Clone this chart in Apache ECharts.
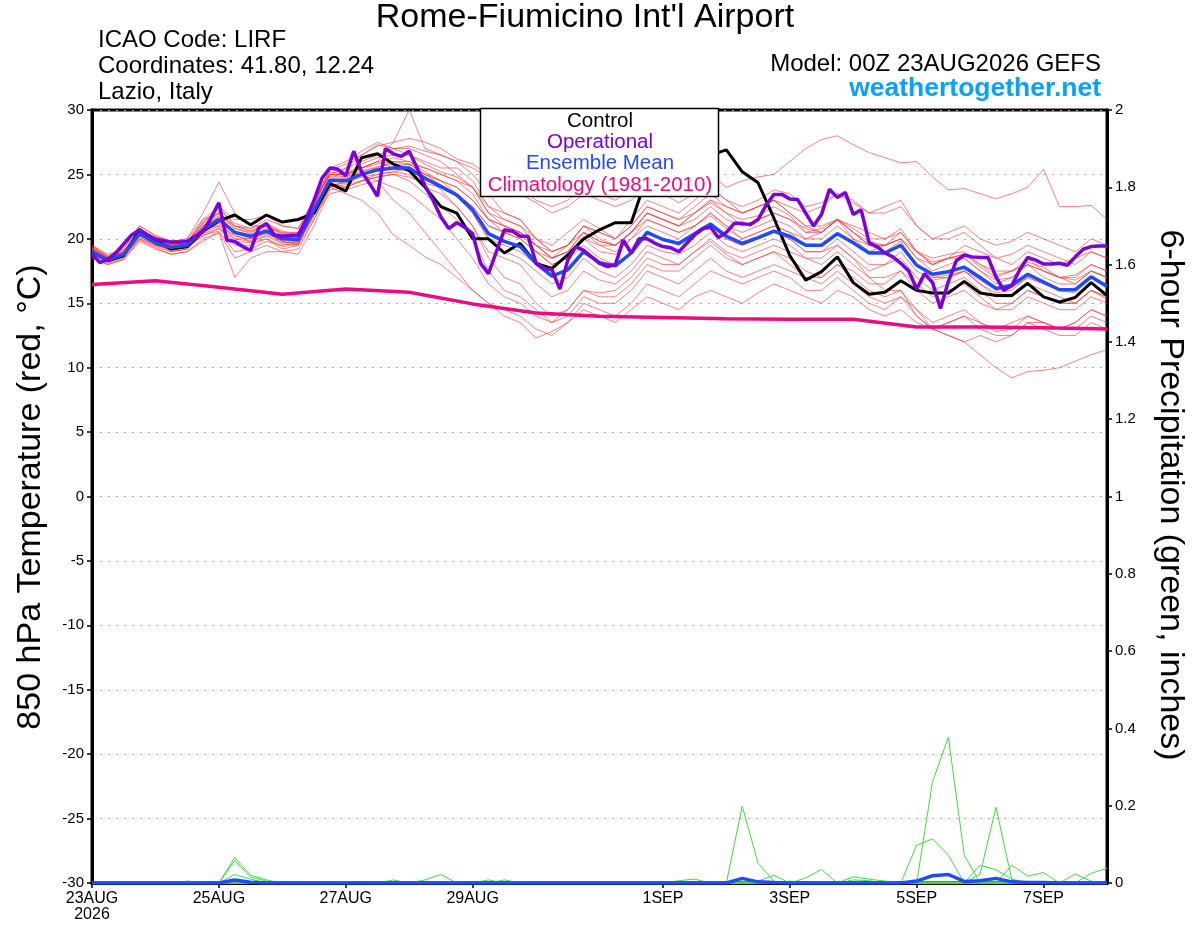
<!DOCTYPE html>
<html><head><meta charset="utf-8">
<script src="https://cdn.jsdelivr.net/npm/echarts@6/dist/echarts.min.js"></script>
<style>html,body{margin:0;padding:0;background:#fff}#c{width:1200px;height:927px}</style>
</head><body><div id="c"></div>
<script>
// ---- x ticks ----
const tickHours = [0,48,96,144,216,264,312,360];
const tickLabels = ['23AUG\n2026','25AUG','27AUG','29AUG','1SEP','3SEP','5SEP','7SEP'];

// ---- control / mean / operational / climatology ----
const control = [19.0,18.3,18.7,20.7,19.9,19.2,19.4,20.6,21.4,21.85,
21.1,21.85,21.3,21.5,22.0,24.3,23.7,26.3,26.6,25.8,
25.3,24.0,22.5,22.0,20.0,20.0,18.9,19.65,18.1,17.7,
18.75,20.0,20.7,21.25,21.25,24.9,25.6,26.0,26.3,26.5,
26.9,25.2,24.35,21.6,18.7,16.8,17.45,18.6,16.6,15.7,
15.85,16.75,16.0,15.8,15.8,16.7,15.8,15.6,15.6,16.55,
15.5,15.1,15.45,16.6,15.6];
const ensMean = [19.0,18.35,18.8,20.4,19.7,19.35,19.5,20.7,21.5,20.5,
20.2,20.6,20.0,19.95,22.25,24.55,24.5,25.0,25.35,25.5,
25.5,24.7,24.05,23.4,22.25,20.4,19.8,19.4,18.1,17.1,
17.6,19.0,18.15,17.9,18.9,20.5,19.95,19.65,20.4,21.15,
20.2,19.65,20.1,20.6,20.2,19.5,19.5,20.4,19.7,18.9,
18.9,19.5,17.95,17.25,17.45,17.8,17.0,16.15,16.4,17.25,
16.65,16.05,16.05,17.05,16.3];
const operational = [18.8,18.15,18.4,18.9,19.6,20.3,20.7,20.3,20.0,19.85,
19.75,19.75,19.8,20.2,20.55,21.6,22.8,19.9,19.8,19.4,
19.1,20.8,21.2,20.3,20.2,20.25,20.3,21.5,23.0,24.7,
25.5,25.4,24.9,26.8,25.2,24.3,23.3,27.0,26.6,26.4,
26.8,25.5,24.1,23.0,21.7,20.8,21.25,20.9,20.4,18.1,
17.3,19.0,20.7,20.6,20.2,20.2,18.1,17.7,17.6,16.1,
18.35,19.4,19.1,18.6,18.1,17.85,18.0,19.9,18.9,20.0,
20.0,19.65,19.4,19.3,19.0,19.65,20.3,20.8,20.9,20.1,
20.5,21.2,21.2,21.1,21.5,22.6,23.45,23.45,23.1,23.05,
22.0,21.0,21.9,23.85,23.2,23.6,21.9,22.25,19.7,19.4,
18.9,18.6,18.1,17.5,16.1,17.3,16.6,14.6,16.7,18.3,
18.75,18.6,18.55,18.55,17.05,16.0,16.4,17.6,18.55,18.35,
18.05,18.05,18.1,17.95,18.6,19.2,19.4,19.45,19.45];
const climatology = [16.45,16.75,16.25,15.7,16.1,15.85,14.95,14.25,14.0,13.9,13.8,13.75,13.75,13.15,13.15,13.1,13.0];

// ---- ensemble members, 850 hPa temperature (6-hourly) ----
const mem01=[19.3,18.5,19.0,20.8,20.0,19.6,19.8,21.0,22.0,20.8,20.5,21.0,20.3,20.5,22.8,25.0,24.8,25.5,26.0,27.5,30.0,27.0,26.5,26.0,25.0,23.5,22.0,21.5,20.0,19.5,20.5,21.5,20.8,20.0,21.0,22.5,22.0,21.5,22.0,22.8,22.0,21.5,21.8,22.5,21.8,20.5,20.8,21.5,20.5,19.8,19.5,20.0,18.5,18.0,18.5,18.8,17.8,17.0,17.5,18.0,17.5,17.0,16.5,17.5,17.0];
const mem02=[19.5,18.6,19.1,20.2,19.9,19.5,19.8,21.2,22.5,21.0,20.6,21.2,20.4,20.2,22.5,25.3,25.8,26.5,27.2,27.5,27.8,27.5,27.0,26.2,25.8,25.0,24.5,24.0,23.0,22.5,23.0,24.0,23.5,23.0,23.8,24.5,24.0,23.5,24.5,25.0,24.0,24.5,24.8,25.0,26.0,27.0,27.7,28.0,27.3,26.7,26.3,25.9,26.0,24.8,23.8,23.9,23.5,23.1,23.5,24.0,25.4,22.5,22.5,22.6,21.5];
const mem03=[19.2,18.3,18.7,20.0,19.5,19.2,19.6,20.5,21.2,20.0,20.0,20.5,19.8,19.6,22.0,24.5,25.5,26.5,27.3,27.0,27.2,26.8,26.5,26.0,25.5,24.8,24.0,23.5,22.8,22.0,22.5,23.5,23.0,22.5,23.0,24.0,23.5,22.8,23.5,24.0,23.0,22.5,23.0,23.8,23.5,22.5,22.8,23.5,22.8,22.0,22.5,23.0,21.0,20.0,20.5,21.0,20.0,19.5,19.8,20.5,20.0,19.5,19.0,20.0,19.5];
const mem04=[18.8,18.2,18.6,20.5,19.6,19.0,19.2,20.8,21.0,19.5,19.5,20.0,19.2,19.5,22.5,24.0,24.5,25.0,24.5,23.0,22.0,20.5,19.0,17.5,16.0,15.0,14.0,13.5,12.3,12.8,13.5,14.5,14.0,13.5,14.5,15.5,15.0,14.5,15.5,16.0,15.5,15.0,15.8,16.5,16.0,15.5,15.0,16.0,15.5,14.5,14.0,14.5,13.5,13.0,13.5,14.0,13.5,13.0,13.5,14.0,13.5,13.0,13.5,14.5,14.0];
const mem05=[19.0,18.5,18.9,20.3,19.8,19.3,19.4,20.2,20.8,20.0,19.8,20.3,19.7,19.8,21.8,24.2,24.3,24.8,25.0,25.2,25.0,24.0,23.5,22.5,21.0,19.0,18.5,18.0,16.5,15.5,16.0,17.5,16.8,16.5,17.5,19.0,18.5,18.0,19.0,19.8,18.8,18.0,18.5,19.0,18.5,17.5,17.0,18.0,17.0,16.0,15.5,16.0,14.0,13.0,12.5,12.0,11.0,10.0,9.2,9.7,9.8,10.0,10.5,11.0,11.4];
const mem06=[19.4,18.7,19.2,21.0,20.3,19.8,20.0,22.0,24.4,22.0,21.0,21.0,20.5,20.5,22.8,25.5,26.0,26.8,27.5,27.0,26.5,26.0,25.5,25.5,24.5,22.5,21.5,21.0,20.0,19.0,19.5,21.0,20.0,19.5,20.5,22.0,21.5,21.0,22.0,23.0,22.0,21.0,21.5,22.0,21.5,20.8,20.5,21.5,20.8,20.0,20.0,20.8,19.0,18.2,18.5,18.8,18.0,17.2,17.5,18.2,17.8,17.0,17.2,18.0,17.5];
const mem07=[18.5,18.0,18.4,19.8,19.2,18.8,19.0,19.8,20.5,17.0,18.5,19.0,19.0,18.8,21.0,23.8,24.0,24.5,24.8,25.0,24.5,23.5,22.5,21.5,20.0,17.5,16.0,15.5,14.5,13.5,14.0,15.5,15.0,15.0,16.0,17.5,17.0,16.5,17.5,18.5,17.5,17.0,17.5,18.0,17.5,17.0,17.0,18.0,17.5,16.5,16.5,17.5,16.0,15.0,15.5,16.0,15.0,14.5,14.5,15.5,15.0,14.5,14.5,15.5,15.0];
const mem08=[19.2,18.5,18.9,20.6,19.9,19.6,19.7,21.5,22.5,21.5,21.5,21.8,21.0,20.8,23.0,25.0,25.0,25.5,26.0,25.5,25.8,25.5,25.0,24.5,24.0,22.5,22.0,21.5,20.0,19.0,19.5,20.5,19.8,19.5,20.5,21.5,21.0,20.5,21.0,22.0,21.0,20.5,21.0,21.5,21.0,20.0,20.5,21.5,21.0,20.5,20.0,20.5,19.0,18.5,18.8,19.0,18.0,17.5,17.5,18.5,17.5,17.0,16.8,17.5,17.0];
const mem09=[18.9,18.3,18.6,20.2,19.5,19.2,19.3,20.5,21.0,20.3,19.8,20.2,19.6,19.5,21.5,24.0,24.2,24.5,25.0,25.2,25.5,24.8,23.8,22.5,21.0,18.5,17.0,16.5,15.0,14.0,14.5,16.0,15.5,15.5,16.5,18.0,17.5,17.5,18.5,19.5,18.5,18.0,18.5,19.0,18.0,17.0,16.5,17.5,16.5,15.5,15.0,15.5,14.0,13.0,13.5,14.0,13.0,12.5,12.5,13.5,13.5,13.0,13.5,14.5,14.0];
const mem10=[19.1,18.4,18.8,20.4,19.8,19.5,19.6,21.0,21.8,20.8,20.4,20.8,20.2,20.0,22.3,24.8,24.8,25.3,25.5,26.0,26.0,25.2,24.5,24.0,23.0,21.5,21.0,20.5,19.5,18.5,19.0,20.5,19.8,19.5,20.5,22.0,21.5,21.0,22.0,23.0,22.5,22.0,22.5,23.0,22.5,22.0,22.5,23.5,23.0,22.0,22.0,22.5,21.0,20.0,20.0,20.5,19.5,18.5,18.8,19.5,19.0,18.5,18.0,19.0,18.5];
const mem11=[18.7,18.1,18.5,20.0,19.4,19.0,19.2,20.4,20.8,19.8,19.7,20.0,19.4,19.6,21.8,23.5,23.8,24.2,24.5,24.0,23.5,22.5,21.5,20.0,18.5,16.5,15.5,15.0,14.0,13.5,14.5,16.0,15.8,16.0,17.0,18.5,18.0,18.0,19.0,20.0,19.0,18.5,19.0,19.5,19.0,18.5,18.0,19.0,18.0,17.0,17.0,17.5,16.5,15.5,16.0,16.5,15.5,14.5,15.0,16.0,15.5,15.0,15.0,16.0,15.5];
const mem12=[19.3,18.6,19.0,20.7,20.1,19.6,19.7,21.3,22.3,21.2,20.8,21.2,20.6,20.3,22.6,25.5,25.0,25.8,26.3,26.5,26.5,25.8,25.2,24.8,24.0,22.0,21.0,20.5,19.0,18.0,18.5,20.0,19.0,18.8,20.0,21.5,21.0,20.5,21.0,21.8,20.8,20.0,20.5,21.0,20.5,19.5,19.5,20.5,19.8,19.0,19.0,19.8,18.0,17.0,17.2,17.5,16.5,15.8,16.0,17.0,16.5,16.0,16.0,17.0,16.5];
const mem13=[19.0,18.3,18.7,20.3,19.5,19.3,19.4,20.6,21.2,20.2,20.0,20.4,19.8,19.7,22.0,24.0,23.5,23.0,22.0,20.3,19.5,18.6,18.0,17.0,16.0,15.0,14.5,14.0,13.0,12.5,13.5,15.0,14.5,14.0,15.0,16.5,16.0,15.5,16.5,17.5,17.0,16.5,17.0,17.5,17.0,16.0,16.0,17.0,16.0,15.0,14.5,15.5,14.5,13.5,14.0,14.5,13.5,12.8,13.0,14.0,13.5,13.0,13.0,14.0,13.5];
const mem14=[19.2,18.5,18.9,20.5,19.9,19.5,19.6,20.9,21.7,20.6,20.3,20.7,20.1,20.1,22.4,24.6,24.7,25.2,25.6,25.8,25.8,25.0,24.5,24.0,23.0,21.5,20.5,20.0,19.0,18.0,18.5,19.5,18.5,18.0,19.0,20.5,20.0,19.5,20.5,21.2,20.0,19.5,20.0,20.5,20.0,19.0,19.0,20.0,19.0,18.0,18.0,19.0,17.5,16.8,17.0,17.5,16.8,16.0,16.2,17.0,16.5,16.0,15.8,17.0,16.2];
const mem15=[18.8,18.2,18.6,20.1,19.6,19.1,19.3,20.3,20.6,19.0,19.2,19.8,19.5,19.8,22.0,24.3,24.0,24.5,24.8,25.0,24.8,24.3,24.0,23.5,22.5,21.0,20.5,20.5,19.5,18.5,19.0,20.0,19.5,19.0,20.0,21.0,20.5,20.0,21.0,22.0,21.0,20.0,20.5,21.0,20.5,20.0,20.0,21.0,20.0,19.0,19.5,20.0,18.5,17.5,18.0,18.5,17.5,16.8,17.0,18.0,17.5,17.0,17.0,18.0,17.5];
const mem16=[19.5,18.8,19.2,21.0,20.2,19.8,20.0,21.5,22.0,21.0,20.8,21.5,21.0,20.8,23.0,25.0,25.5,26.0,26.5,27.0,27.0,26.5,26.0,25.0,24.0,22.0,21.5,21.0,19.5,18.5,19.5,21.0,20.5,20.0,21.5,23.0,22.5,22.0,23.0,24.0,23.0,22.0,22.5,23.0,22.0,21.0,20.5,21.5,20.5,19.5,19.0,19.5,18.0,17.0,17.0,17.5,16.5,15.5,15.5,16.5,16.0,15.5,15.0,16.0,15.5];
const mem17=[18.6,18.0,18.4,19.9,19.3,18.8,19.0,20.0,20.5,18.5,19.0,19.5,19.0,19.2,21.5,24.0,24.5,25.0,25.5,25.5,25.5,25.0,24.5,23.5,22.0,20.0,19.0,18.5,17.5,16.5,17.0,18.5,17.5,17.0,18.0,19.5,19.0,18.8,19.5,20.5,19.5,19.0,19.5,20.0,19.5,18.5,18.5,19.5,18.5,17.5,18.0,18.5,17.0,16.0,16.5,17.0,16.0,15.0,15.0,16.0,15.5,15.0,15.0,16.0,15.3];
const mem18=[19.1,18.4,18.8,20.4,19.8,19.4,19.6,21.0,21.6,20.5,20.2,20.6,20.0,20.0,22.2,25.0,25.0,25.5,25.8,26.0,25.8,25.0,24.2,23.5,22.5,21.0,20.5,20.0,19.0,18.5,19.0,20.5,19.5,19.5,20.5,22.0,21.5,21.0,21.5,22.5,21.5,21.0,21.5,22.0,21.5,20.5,20.5,21.5,20.5,19.5,19.5,20.5,19.0,18.0,18.5,18.5,17.5,16.5,17.0,18.0,17.0,16.5,16.5,17.5,17.0];
const mem19=[19.0,18.4,18.8,20.5,19.7,19.4,19.5,20.8,21.4,20.4,20.1,20.5,19.9,19.9,22.2,24.5,24.6,25.0,25.3,25.4,25.3,24.6,24.0,23.3,22.0,20.0,19.5,19.0,18.0,17.0,17.5,19.0,18.2,18.0,19.0,20.5,20.0,19.5,20.2,21.0,20.0,19.5,20.0,20.5,20.0,19.0,19.0,19.5,18.5,17.0,16.0,16.0,14.5,13.0,12.5,12.0,12.5,12.0,12.5,13.5,13.0,12.5,12.5,13.5,13.0];
const mem20=[19.3,18.6,19.0,20.6,20.0,19.6,19.8,21.2,22.0,21.0,20.6,21.0,20.4,20.3,22.6,25.2,25.0,25.5,26.0,26.3,26.0,25.5,25.0,24.5,23.5,21.5,21.0,20.5,19.5,19.0,19.5,21.0,20.5,20.0,21.0,22.5,22.0,21.5,22.5,23.5,22.5,22.0,22.5,23.0,22.0,21.0,21.0,21.5,20.0,19.5,19.5,20.0,19.0,18.0,18.5,19.5,19.0,18.5,18.0,19.0,18.5,18.0,18.5,19.0,18.5];

// ---- ensemble members, 6-hour precipitation (inches) ----
const pcp01=[0,0,0,0,0,0,0,0,0,.066,.02,.008,0,0,0,0,0,0,0,0,0,0,0,0,0,0,0,0,0,0,0,0,0,0,0,0,0,0,0,0,0,0,0,0,0,0,0,0,0,0,0,0,0,0,0,0,0,0,0,0,0,0,0,.025,.038];
const pcp02=[0,0,0,0,0,0,0,0,0,.058,.015,.005,0,0,0,0,0,0,0,0,0,0,0,0,0,0,0,0,0,0,0,0,0,0,0,0,0,0,0,0,0,0,0,0,0,0,0,0,0,0,0,0,0,0,0,0,0,0,0,0,0,0,0,0,0];
const pcp03=[0,0,0,0,0,0,0,0,0,.022,.01,0,0,0,0,0,0,0,0,0,0,0,0,0,0,0,0,0,0,0,0,0,0,0,0,0,0,0,0,0,0,0,0,0,0,0,0,0,0,0,0,0,0,0,0,0,0,0,0,0,0,0,0,0,0];
const pcp04=[0,0,0,0,0,0,.005,0,0,0,0,0,0,0,0,0,0,0,0,0,0,0,0,0,0,0,0,0,0,0,0,0,0,0,0,0,0,0,0,0,0,0,0,0,0,0,0,0,0,0,0,0,0,0,0,0,0,0,0,0,0,0,0,0,0];
const pcp05=[0,0,0,0,0,0,0,0,0,0,0,0,0,0,0,0,.004,0,0,.008,0,0,0,0,0,0,0,0,0,0,0,0,0,0,0,0,0,0,0,0,0,0,0,0,0,0,0,0,0,0,0,0,0,0,0,0,0,0,0,0,0,0,0,0,0];
const pcp06=[0,0,0,0,0,0,0,0,0,0,0,0,0,0,0,0,0,0,0,0,0,.008,.022,0,0,0,0,0,0,0,0,0,0,0,0,0,0,0,0,0,0,0,0,0,0,0,0,0,0,0,0,0,0,0,0,0,0,0,0,0,0,0,0,0,0];
const pcp07=[0,0,0,0,0,0,0,0,0,0,0,0,0,0,0,0,0,0,0,0,0,0,0,0,0,.008,0,.004,0,0,0,0,0,0,0,0,0,0,0,0,0,0,0,0,0,0,0,0,0,0,0,0,0,0,0,0,0,0,0,0,0,0,0,0,0];
const pcp08=[0,0,0,0,0,0,0,0,0,0,0,0,0,0,0,0,0,0,0,0,0,0,0,0,0,0,.008,0,0,0,0,0,0,0,0,0,0,0,0,0,0,0,0,0,0,0,0,0,0,0,0,0,0,0,0,0,0,0,0,0,0,0,0,0,0];
const pcp09=[0,0,0,0,0,0,0,0,0,0,0,0,0,0,0,0,0,0,0,0,0,0,0,0,0,0,0,0,0,0,0,0,0,0,0,0,0,.006,.01,0,0,0,0,0,0,0,0,0,0,0,0,0,0,0,0,0,0,0,0,0,0,0,0,0,0];
const pcp10=[0,0,0,0,0,0,0,0,0,0,0,0,0,0,0,0,0,0,0,0,0,0,0,0,0,0,0,0,0,0,0,0,0,0,0,0,0,0,0,0,0,.199,.051,.005,0,0,0,0,0,0,0,0,0,0,0,0,0,0,0,0,0,0,0,0,0];
const pcp11=[0,0,0,0,0,0,0,0,0,0,0,0,0,0,0,0,0,0,0,0,0,0,0,0,0,0,0,0,0,0,0,0,0,0,0,0,0,0,0,0,0,0,.005,.02,0,0,0,0,0,0,0,0,0,0,0,0,0,0,0,0,0,0,0,0,0];
const pcp12=[0,0,0,0,0,0,0,0,0,0,0,0,0,0,0,0,0,0,0,0,0,0,0,0,0,0,0,0,0,0,0,0,0,0,0,0,0,0,0,0,0,0,0,0,0,.013,.035,0,0,0,0,0,0,0,0,0,0,0,0,0,0,0,0,0,0];
const pcp13=[0,0,0,0,0,0,0,0,0,0,0,0,0,0,0,0,0,0,0,0,0,0,0,0,0,0,0,0,0,0,0,0,0,0,0,0,0,0,0,0,0,0,0,0,0,0,0,0,.016,.01,.005,0,0,0,0,0,0,0,0,0,0,0,0,0,0];
const pcp14=[0,0,0,0,0,0,0,0,0,0,0,0,0,0,0,0,0,0,0,0,0,0,0,0,0,0,0,0,0,0,0,0,0,0,0,0,0,0,0,0,0,0,0,0,.005,0,0,0,.008,.006,0,0,0,0,0,0,0,0,0,0,0,0,0,0,0];
const pcp15=[0,0,0,0,0,0,0,0,0,0,0,0,0,0,0,0,0,0,0,0,0,0,0,0,0,0,0,0,0,0,0,0,0,0,0,0,0,0,0,0,0,0,0,0,0,0,0,0,0,0,0,0,.098,.114,.072,0,0,0,0,0,0,0,0,0,0];
const pcp16=[0,0,0,0,0,0,0,0,0,0,0,0,0,0,0,0,0,0,0,0,0,0,0,0,0,0,0,0,0,0,0,0,0,0,0,0,0,0,0,0,0,0,0,0,0,0,0,0,0,0,0,0,0,.262,.377,.072,0,0,0,0,0,0,0,0,0];
const pcp17=[0,0,0,0,0,0,0,0,0,0,0,0,0,0,0,0,0,0,0,0,0,0,0,0,0,0,0,0,0,0,0,0,0,0,0,0,0,0,0,0,0,0,0,0,0,0,0,0,0,0,0,0,0,0,0,0,.046,.034,.01,0,0,0,0,0,0];
const pcp18=[0,0,0,0,0,0,0,0,0,0,0,0,0,0,0,0,0,0,0,0,0,0,0,0,0,0,0,0,0,0,0,0,0,0,0,0,0,0,0,0,0,0,0,0,0,0,0,0,0,0,0,0,0,0,0,0,.023,.196,.008,0,0,0,0,0,0];
const pcp19=[0,0,0,0,0,0,0,0,0,0,0,0,0,0,0,0,0,0,0,0,0,0,0,0,0,0,0,0,0,0,0,0,0,0,0,0,0,0,0,0,0,0,0,0,0,0,0,0,0,0,0,0,0,0,0,0,0,0,.046,.018,.027,0,0,0,0];
const pcp20=[0,0,0,0,0,0,0,0,0,0,0,0,0,0,0,0,0,0,0,0,0,0,0,0,0,0,0,0,0,0,0,0,0,0,0,0,0,0,0,0,0,0,0,0,0,0,0,0,0,0,0,0,0,0,0,0,0,0,0,0,0,0,.023,.005,0];
const pcpMean=[0,0,0,0,0,0,0,0,0,.008,.002,0,0,0,0,0,0,0,0,0,0,0,0,0,0,0,0,0,0,0,0,0,0,0,0,0,0,0,0,0,0,.012,.003,.001,0,0,0,0,0,0,0,0,.005,.019,.022,.004,.006,.012,.003,.001,.001,0,0,0,0];

const members = [mem01,mem02,mem03,mem04,mem05,mem06,mem07,mem08,mem09,mem10,mem11,mem12,mem13,mem14,mem15,mem16,mem17,mem18,mem19,mem20];
const precipMembers = [pcp01,pcp02,pcp03,pcp04,pcp05,pcp06,pcp07,pcp08,pcp09,pcp10,pcp11,pcp12,pcp13,pcp14,pcp15,pcp16,pcp17,pcp18,pcp19,pcp20];

// forecast hour of each value
const at6 = arr => arr.map((v,i)=>[i*6, v]);
const at3 = arr => arr.map((v,i)=>[i*3, v]);
const at24 = arr => arr.map((v,i)=>[i*24, v]);

const FONT = 'Liberation Sans, Arial, Helvetica, sans-serif';
const C_RED='rgba(255,45,45,0.6)', C_GREEN='#3ddc3d', C_CTRL='#000000', C_OPER='#7a00dd', C_MEAN='#1f4bff', C_CLIM='#ee0a80';

const series = [];
members.forEach((m,k)=>series.push({name:'member'+(k+1), type:'line', data:at6(m), yAxisIndex:0, showSymbol:false, symbol:'none', lineStyle:{color:C_RED, width:1}, z:2, silent:true}));
precipMembers.forEach((p,k)=>series.push({name:'precip'+(k+1), type:'line', data:at6(p), yAxisIndex:1, showSymbol:false, symbol:'none', lineStyle:{color:C_GREEN, width:1}, z:2, silent:true}));
series.push({name:'Climatology (1981-2010)', type:'line', data:at24(climatology), yAxisIndex:0, symbol:'none', lineStyle:{color:C_CLIM, width:3.5}, z:3});
series.push({name:'Control', type:'line', data:at6(control), yAxisIndex:0, symbol:'none', lineStyle:{color:C_CTRL, width:3}, z:4});
series.push({name:'Ensemble Mean', type:'line', data:at6(ensMean), yAxisIndex:0, symbol:'none', lineStyle:{color:C_MEAN, width:3.5}, z:5});
series.push({name:'Operational', type:'line', data:at3(operational), yAxisIndex:0, symbol:'none', lineStyle:{color:C_OPER, width:3.5}, z:6});
series.push({name:'Mean precip', type:'line', data:at6(pcpMean), yAxisIndex:1, symbol:'none', lineStyle:{color:C_MEAN, width:3.5}, z:6});

const bad = members.concat(precipMembers,[control,ensMean,pcpMean]).filter(a=>a.length!==65).length + (operational.length!==129?1:0);

const chart = echarts.init(document.getElementById('c'), null, {renderer:'canvas'});
chart.setOption({
  animation:false,
  backgroundColor:'#fff',
  textStyle:{fontFamily:FONT},
  grid:{left:92, right:93, top:110, bottom:44, show:true, borderColor:'#000', borderWidth:3, backgroundColor:'transparent'},
  xAxis:{type:'value', min:0, max:384,
    axisLine:{show:true, onZero:false, lineStyle:{color:'#000', width:3}},
    axisTick:{show:true, customValues:tickHours, length:5, lineStyle:{color:'#000', width:1.5}},
    axisLabel:{customValues:tickHours, formatter:v=>tickLabels[tickHours.indexOf(v)], color:'#000', fontSize:16, fontFamily:FONT, margin:8, lineHeight:16},
    splitLine:{show:false}},
  yAxis:[
    {type:'value', min:-30, max:30, interval:5, position:'left',
     axisLine:{show:true, onZero:false, lineStyle:{color:'#000', width:3}},
     axisTick:{show:true, length:5, lineStyle:{color:'#000', width:1.5}},
     axisLabel:{color:'#000', fontSize:15, fontFamily:FONT, margin:8},
     splitLine:{show:true, lineStyle:{color:'#aaaaaa', type:[2,6], width:1}}},
    {type:'value', min:0, max:2, interval:0.2, position:'right',
     axisLine:{show:true, onZero:false, lineStyle:{color:'#000', width:3}},
     axisTick:{show:true, length:5, lineStyle:{color:'#000', width:1.5}},
     axisLabel:{color:'#000', fontSize:15, fontFamily:FONT, margin:8, formatter:v=>String(+v.toFixed(1))},
     splitLine:{show:false}}
  ],
  series:series,
  graphic:[
    {type:'text', x:585, y:18, style:{text:"Rome-Fiumicino Int'l Airport", font:'34px '+FONT, fill:'#000', textAlign:'center', textVerticalAlign:'middle'}, z:100},
    {type:'text', x:98, y:40, style:{text:'ICAO Code: LIRF', font:'24px '+FONT, fill:'#000', textVerticalAlign:'middle'}, z:100},
    {type:'text', x:98, y:66, style:{text:'Coordinates: 41.80, 12.24', font:'24px '+FONT, fill:'#000', textVerticalAlign:'middle'}, z:100},
    {type:'text', x:98, y:92, style:{text:'Lazio, Italy', font:'24px '+FONT, fill:'#000', textVerticalAlign:'middle'}, z:100},
    {type:'text', x:1101, y:64, style:{text:'Model: 00Z 23AUG2026 GEFS', font:'24px '+FONT, fill:'#000', textAlign:'right', textVerticalAlign:'middle'}, z:100},
    {type:'text', x:1101, y:89, style:{text:'weathertogether.net', font:'bold 26.5px '+FONT, fill:'#0aa0ff', textAlign:'right', textVerticalAlign:'middle'}, z:100},
    {type:'text', x:31, y:497, rotation:Math.PI/2, style:{text:'850 hPa Temperature (red, °C)', font:'34px '+FONT, fill:'#000', textAlign:'center', textVerticalAlign:'middle'}, z:100},
    {type:'text', x:1170, y:495, rotation:-Math.PI/2, style:{text:'6-hour Precipitation (green, inches)', font:'34px '+FONT, fill:'#000', textAlign:'center', textVerticalAlign:'middle'}, z:100},
    {type:'rect', shape:{x:480.5, y:108.5, width:238, height:88}, style:{fill:'#fff', stroke:'#000', lineWidth:1.5}, z:100},
    {type:'text', x:600, y:121, style:{text:'Control', font:'20.5px '+FONT, fill:C_CTRL, textAlign:'center', textVerticalAlign:'middle'}, z:101},
    {type:'text', x:600, y:142, style:{text:'Operational', font:'20.5px '+FONT, fill:C_OPER, textAlign:'center', textVerticalAlign:'middle'}, z:101},
    {type:'text', x:600, y:163, style:{text:'Ensemble Mean', font:'20.5px '+FONT, fill:C_MEAN, textAlign:'center', textVerticalAlign:'middle'}, z:101},
    {type:'text', x:600, y:185, style:{text:'Climatology (1981-2010)', font:'20.5px '+FONT, fill:C_CLIM, textAlign:'center', textVerticalAlign:'middle'}, z:101}
  ].concat(bad ? [{type:'text', x:300, y:500, style:{text:'LENGTH MISMATCH '+bad, font:'40px sans-serif', fill:'red'}, z:200}] : [])
});
</script></body></html>
